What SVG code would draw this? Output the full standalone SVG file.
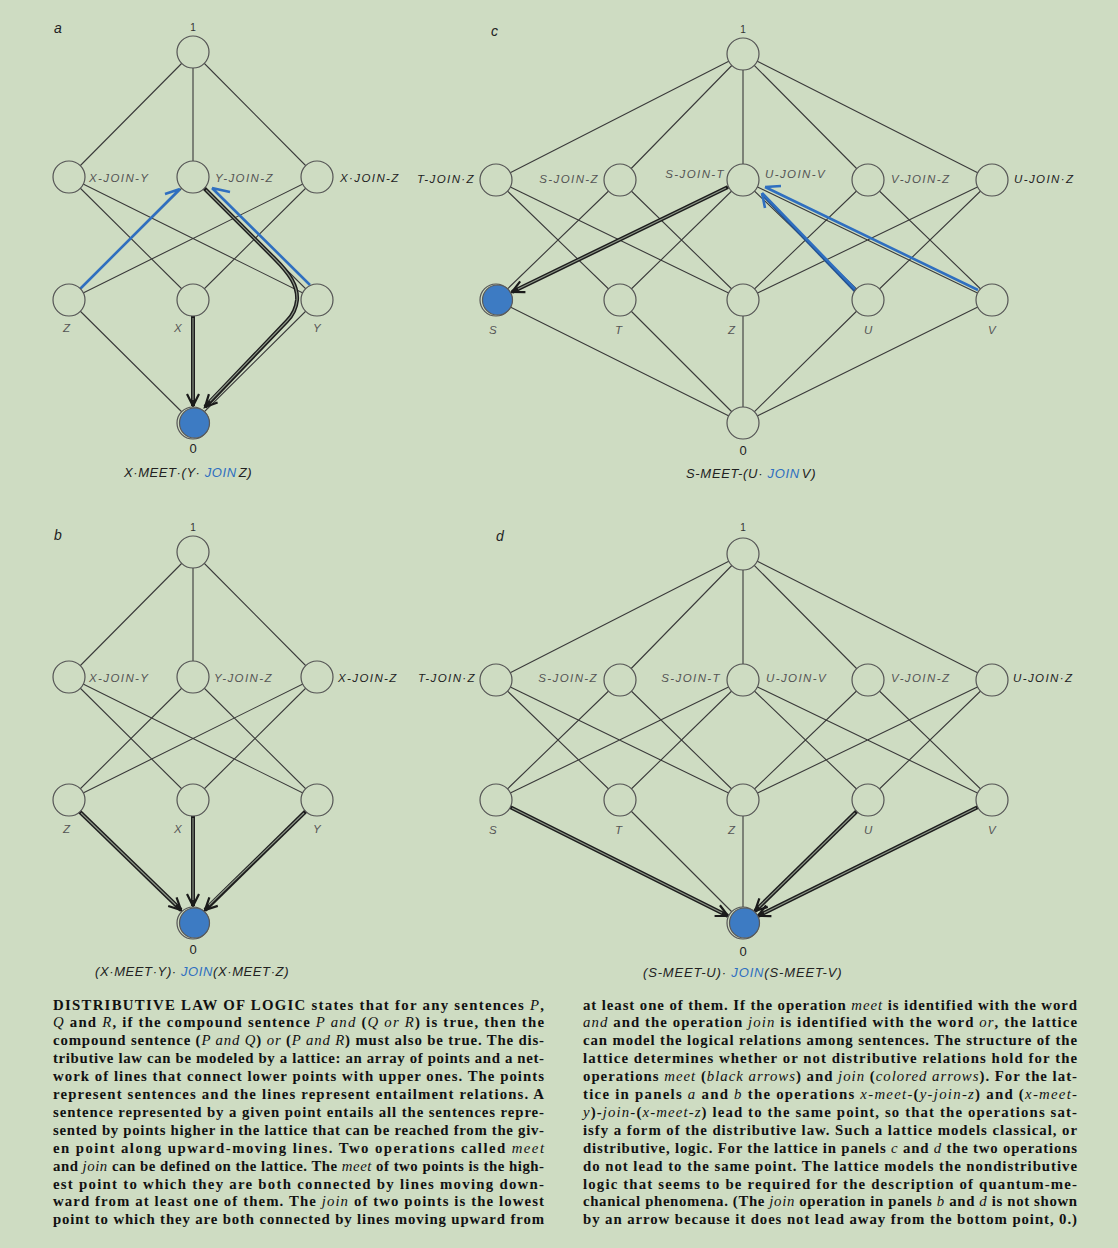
<svg xmlns="http://www.w3.org/2000/svg" width="1118" height="1248" viewBox="0 0 1118 1248">
<style>
.bg{fill:#cedcc2}
.e{fill:none;stroke:#3a3a3a;stroke-width:1.1}
.n{fill:#cedcc2;stroke:#555;stroke-width:1.2}
.nb{fill:#3d7bc3;stroke:#5a5a5a;stroke-width:1.2}
.m{fill:none;stroke:#1d1d1d;stroke-width:4}
.mi{fill:none;stroke:#8d9788;stroke-width:1.1}
.bl{fill:none;stroke:#2f6fc0;stroke-width:2.6}
.bd{fill:none;stroke:#23508f;stroke-width:3}
.lab{font-family:"Liberation Sans",Arial,sans-serif;font-style:italic;font-size:11.5px;letter-spacing:1.4px;fill:#555}
.labd{fill:#222}
.num{font-family:"Liberation Sans",Arial,sans-serif;font-size:10px;fill:#333;text-anchor:middle}
.zero{font-family:"Liberation Sans",Arial,sans-serif;font-size:13px;fill:#222;text-anchor:middle}
.pl{font-family:"Liberation Sans",Arial,sans-serif;font-style:italic;font-size:14px;fill:#222}
.ttl{font-family:"Liberation Sans",Arial,sans-serif;font-style:italic;font-size:13px;fill:#222;letter-spacing:0.5px}
.jn{fill:#2f6fc0}
.cap{font-family:"Liberation Serif","Times New Roman",serif;font-weight:bold;font-size:14.8px;fill:#111}
.i{font-style:italic;font-weight:normal}
</style>
<defs>
<marker id="mk" markerUnits="userSpaceOnUse" markerWidth="20" markerHeight="20" refX="14" refY="8" orient="auto" overflow="visible">
<path d="M2,2 L14,8 L2,14" fill="none" stroke="#1a1a1a" stroke-width="2.2"/>
</marker>
</defs>
<rect class="bg" x="0" y="0" width="1118" height="1248"/>

<!-- Panel letters -->
<text class="pl" x="54" y="33">a</text>
<text class="pl" x="491" y="36">c</text>
<text class="pl" x="54" y="540">b</text>
<text class="pl" x="496" y="541">d</text>

<!-- Connectors -->
<g id="connectors">
  <path class="e" d="M193,52L69,177M193,52L193,177M193,52L317,177M69,177L193,300M69,177L317,300M193,177L69,300M193,177L317,300M317,177L69,300M317,177L193,300M69,300L193,423M193,300L193,423M317,300L193,423"/>
  <path class="e" d="M193,552L69,677M193,552L193,677M193,552L317,677M69,677L193,800M69,677L317,800M193,677L69,800M193,677L317,800M317,677L69,800M317,677L193,800M69,800L193,923M193,800L193,923M317,800L193,923"/>
  <path class="e" d="M743,54L496,180M743,54L620,180M743,54L743,180M743,54L868,180M743,54L992,180M496,180L620,300M496,180L743,300M620,180L496,300M620,180L743,300M743,180L496,300M743,180L620,300M743,180L868,300M743,180L992,300M868,180L743,300M868,180L992,300M992,180L743,300M992,180L868,300M496,300L743,423M620,300L743,423M743,300L743,423M868,300L743,423M992,300L743,423"/>
  <path class="e" d="M743,554L496,680M743,554L620,680M743,554L743,680M743,554L868,680M743,554L992,680M496,680L620,800M496,680L743,800M620,680L496,800M620,680L743,800M743,680L496,800M743,680L620,800M743,680L868,800M743,680L992,800M868,680L743,800M868,680L992,800M992,680L743,800M992,680L868,800M496,800L743,923M620,800L743,923M743,800L743,923M868,800L743,923M992,800L743,923"/>

  <!-- panel a meet arrows -->
  <path class="m" d="M193,316L193,406" marker-end="url(#mk)"/>
  <path class="mi" d="M193,318L193,400"/>
  <path class="m" d="M204,188L274,258C290,274 298,286 297,300C296,310 292,316 287,321L205,407" marker-end="url(#mk)"/>
  <path class="mi" d="M206,190L274,258C290,274 298,286 297,300C296,310 292,316 287,321L210,401"/>
  <!-- panel a join arrows -->
  <path class="bl" d="M80,289L180,189M180,189L165,194"/>
  <path class="bl" d="M310,285L212,188M212,188L230,192"/>

  <!-- panel c meet arrow -->
  <path class="m" d="M728,187L512,292" marker-end="url(#mk)"/>
  <path class="mi" d="M726,188L518,289"/>
  <!-- panel c join arrows -->
  <path class="bd" d="M855,291L762,194"/>
  <path class="bl" d="M855,289L762,193M762,193L765,208"/>
  <path class="bl" d="M978,290L765,187M765,187L781,186"/>

  <!-- panel b meet arrows -->
  <path class="m" d="M79,811L181,910" marker-end="url(#mk)"/>
  <path class="mi" d="M81,813L176,905"/>
  <path class="m" d="M193,816L193,906" marker-end="url(#mk)"/>
  <path class="mi" d="M193,818L193,900"/>
  <path class="m" d="M306,811L205,910" marker-end="url(#mk)"/>
  <path class="mi" d="M304,813L209,905"/>

  <!-- panel d meet arrows -->
  <path class="m" d="M510,807L728,916" marker-end="url(#mk)"/>
  <path class="mi" d="M512,808L722,913"/>
  <path class="m" d="M857,811L755,911" marker-end="url(#mk)"/>
  <path class="mi" d="M855,813L759,907"/>
  <path class="m" d="M978,807L758,916" marker-end="url(#mk)"/>
  <path class="mi" d="M976,808L764,913"/>
</g>

<!-- Panel a nodes -->
<g id="a-one"><circle class="n" cx="193" cy="52" r="16"/><text class="num" x="193" y="31">1</text></g>
<g id="a-xjy"><circle class="n" cx="69" cy="177" r="16"/><text class="lab" x="89" y="182">X-JOIN-Y</text></g>
<g id="a-yjz"><circle class="n" cx="193" cy="177" r="16"/><text class="lab" x="215" y="182">Y-JOIN-Z</text></g>
<g id="a-xjz"><circle class="n" cx="317" cy="177" r="16"/><text class="lab labd" x="340" y="182">X·JOIN-Z</text></g>
<g id="a-z"><circle class="n" cx="69" cy="300" r="16"/><text class="lab" x="63" y="332">Z</text></g>
<g id="a-x"><circle class="n" cx="193" cy="300" r="16"/><text class="lab" x="174" y="332">X</text></g>
<g id="a-y"><circle class="n" cx="317" cy="300" r="16"/><text class="lab" x="313" y="332">Y</text></g>
<g id="a-zero"><circle class="n" cx="193" cy="423" r="16"/><circle class="nb" cx="194.5" cy="423" r="15"/><text class="zero" x="193" y="453">0</text></g>
<text class="ttl" x="124" y="477" textLength="128">X·MEET·(Y· <tspan class="jn">JOIN</tspan><tspan dx="2">Z)</tspan></text>

<!-- Panel b nodes -->
<g id="b-one"><circle class="n" cx="193" cy="552" r="16"/><text class="num" x="193" y="531">1</text></g>
<g id="b-xjy"><circle class="n" cx="69" cy="677" r="16"/><text class="lab" x="89" y="682">X-JOIN-Y</text></g>
<g id="b-yjz"><circle class="n" cx="193" cy="677" r="16"/><text class="lab" x="214" y="682">Y-JOIN-Z</text></g>
<g id="b-xjz"><circle class="n" cx="317" cy="677" r="16"/><text class="lab labd" x="338" y="682">X-JOIN-Z</text></g>
<g id="b-z"><circle class="n" cx="69" cy="800" r="16"/><text class="lab" x="63" y="833">Z</text></g>
<g id="b-x"><circle class="n" cx="193" cy="800" r="16"/><text class="lab" x="174" y="833">X</text></g>
<g id="b-y"><circle class="n" cx="317" cy="800" r="16"/><text class="lab" x="313" y="833">Y</text></g>
<g id="b-zero"><circle class="n" cx="193" cy="923" r="16"/><circle class="nb" cx="194.5" cy="923" r="15"/><text class="zero" x="193" y="954">0</text></g>
<text class="ttl" x="95" y="976" textLength="194">(X·MEET·Y)· <tspan class="jn">JOIN</tspan>(X·MEET·Z)</text>

<!-- Panel c nodes -->
<g id="c-one"><circle class="n" cx="743" cy="54" r="16"/><text class="num" x="743" y="33">1</text></g>
<g id="c-tjz"><circle class="n" cx="496" cy="180" r="16"/><text class="lab labd" x="475" y="183" text-anchor="end">T-JOIN·Z</text></g>
<g id="c-sjz"><circle class="n" cx="620" cy="180" r="16"/><text class="lab" x="599" y="183" text-anchor="end">S-JOIN-Z</text></g>
<g id="c-sjt"><circle class="n" cx="743" cy="180" r="16"/><text class="lab" x="725" y="178" text-anchor="end">S-JOIN-T</text><text class="lab" x="765" y="178">U-JOIN-V</text></g>
<g id="c-vjz"><circle class="n" cx="868" cy="180" r="16"/><text class="lab" x="891" y="183">V-JOIN-Z</text></g>
<g id="c-ujz"><circle class="n" cx="992" cy="180" r="16"/><text class="lab labd" x="1014" y="183">U-JOIN·Z</text></g>
<g id="c-s"><circle class="n" cx="496" cy="300" r="16"/><circle class="nb" cx="497.5" cy="300" r="15"/><text class="lab" x="489" y="334">S</text></g>
<g id="c-t"><circle class="n" cx="620" cy="300" r="16"/><text class="lab" x="615" y="334">T</text></g>
<g id="c-z"><circle class="n" cx="743" cy="300" r="16"/><text class="lab" x="728" y="334">Z</text></g>
<g id="c-u"><circle class="n" cx="868" cy="300" r="16"/><text class="lab" x="864" y="334">U</text></g>
<g id="c-v"><circle class="n" cx="992" cy="300" r="16"/><text class="lab" x="988" y="334">V</text></g>
<g id="c-zero"><circle class="n" cx="743" cy="423" r="16"/><text class="zero" x="743" y="455">0</text></g>
<text class="ttl" x="686" y="478" textLength="130">S-MEET-(U· <tspan class="jn">JOIN</tspan><tspan dx="2">V)</tspan></text>

<!-- Panel d nodes -->
<g id="d-one"><circle class="n" cx="743" cy="554" r="16"/><text class="num" x="743" y="531">1</text></g>
<g id="d-tjz"><circle class="n" cx="496" cy="680" r="16"/><text class="lab labd" x="476" y="682" text-anchor="end">T-JOIN·Z</text></g>
<g id="d-sjz"><circle class="n" cx="620" cy="680" r="16"/><text class="lab" x="598" y="682" text-anchor="end">S-JOIN-Z</text></g>
<g id="d-sjt"><circle class="n" cx="743" cy="680" r="16"/><text class="lab" x="721" y="682" text-anchor="end">S-JOIN-T</text><text class="lab" x="766" y="682">U-JOIN-V</text></g>
<g id="d-vjz"><circle class="n" cx="868" cy="680" r="16"/><text class="lab" x="891" y="682">V-JOIN-Z</text></g>
<g id="d-ujz"><circle class="n" cx="992" cy="680" r="16"/><text class="lab labd" x="1013" y="682">U-JOIN·Z</text></g>
<g id="d-s"><circle class="n" cx="496" cy="800" r="16"/><text class="lab" x="489" y="834">S</text></g>
<g id="d-t"><circle class="n" cx="620" cy="800" r="16"/><text class="lab" x="615" y="834">T</text></g>
<g id="d-z"><circle class="n" cx="743" cy="800" r="16"/><text class="lab" x="728" y="834">Z</text></g>
<g id="d-u"><circle class="n" cx="868" cy="800" r="16"/><text class="lab" x="864" y="834">U</text></g>
<g id="d-v"><circle class="n" cx="992" cy="800" r="16"/><text class="lab" x="988" y="834">V</text></g>
<g id="d-zero"><circle class="n" cx="743" cy="923" r="16"/><circle class="nb" cx="744.5" cy="923" r="15"/><text class="zero" x="743" y="956">0</text></g>
<text class="ttl" x="643" y="977" textLength="199">(S-MEET-U)· <tspan class="jn">JOIN</tspan>(S-MEET-V)</text>

<!-- Caption -->
<g id="caption-left" class="cap">
<text x="53" y="1009.5" textLength="491">DISTRIBUTIVE LAW OF LOGIC states that for any sentences <tspan class="i">P</tspan>,</text>
<text x="53" y="1027.4" textLength="491"><tspan class="i">Q</tspan> and <tspan class="i">R</tspan>, if the compound sentence <tspan class="i">P and</tspan> (<tspan class="i">Q or R</tspan>) is true, then the</text>
<text x="53" y="1045.3" textLength="491">compound sentence (<tspan class="i">P and Q</tspan>) <tspan class="i">or</tspan> (<tspan class="i">P and R</tspan>) must also be true. The dis-</text>
<text x="53" y="1063.2" textLength="491">tributive law can be modeled by a lattice: an array of points and a net-</text>
<text x="53" y="1081.1" textLength="491">work of lines that connect lower points with upper ones. The points</text>
<text x="53" y="1099.0" textLength="491">represent sentences and the lines represent entailment relations. A</text>
<text x="53" y="1116.9" textLength="491">sentence represented by a given point entails all the sentences repre-</text>
<text x="53" y="1134.8" textLength="491">sented by points higher in the lattice that can be reached from the giv-</text>
<text x="53" y="1152.7" textLength="491">en point along upward-moving lines. Two operations called <tspan class="i">meet</tspan></text>
<text x="53" y="1170.6" textLength="491">and <tspan class="i">join</tspan> can be defined on the lattice. The <tspan class="i">meet</tspan> of two points is the high-</text>
<text x="53" y="1188.5" textLength="491">est point to which they are both connected by lines moving down-</text>
<text x="53" y="1206.4" textLength="491">ward from at least one of them. The <tspan class="i">join</tspan> of two points is the lowest</text>
<text x="53" y="1224.3" textLength="491">point to which they are both connected by lines moving upward from</text>
</g>
<g id="caption-right" class="cap">
<text x="583" y="1009.5" textLength="494">at least one of them. If the operation <tspan class="i">meet</tspan> is identified with the word</text>
<text x="583" y="1027.4" textLength="494"><tspan class="i">and</tspan> and the operation <tspan class="i">join</tspan> is identified with the word <tspan class="i">or</tspan>, the lattice</text>
<text x="583" y="1045.3" textLength="494">can model the logical relations among sentences. The structure of the</text>
<text x="583" y="1063.2" textLength="494">lattice determines whether or not distributive relations hold for the</text>
<text x="583" y="1081.1" textLength="494">operations <tspan class="i">meet</tspan> (<tspan class="i">black arrows</tspan>) and <tspan class="i">join</tspan> (<tspan class="i">colored arrows</tspan>). For the lat-</text>
<text x="583" y="1099.0" textLength="494">tice in panels <tspan class="i">a</tspan> and <tspan class="i">b</tspan> the operations <tspan class="i">x-meet-</tspan>(<tspan class="i">y-join-z</tspan>) and (<tspan class="i">x-meet-</tspan></text>
<text x="583" y="1116.9" textLength="494"><tspan class="i">y</tspan>)-<tspan class="i">join-</tspan>(<tspan class="i">x-meet-z</tspan>) lead to the same point, so that the operations sat-</text>
<text x="583" y="1134.8" textLength="494">isfy a form of the distributive law. Such a lattice models classical, or</text>
<text x="583" y="1152.7" textLength="494">distributive, logic. For the lattice in panels <tspan class="i">c</tspan> and <tspan class="i">d</tspan> the two operations</text>
<text x="583" y="1170.6" textLength="494">do not lead to the same point. The lattice models the nondistributive</text>
<text x="583" y="1188.5" textLength="494">logic that seems to be required for the description of quantum-me-</text>
<text x="583" y="1206.4" textLength="494">chanical phenomena. (The <tspan class="i">join</tspan> operation in panels <tspan class="i">b</tspan> and <tspan class="i">d</tspan> is not shown</text>
<text x="583" y="1224.3" textLength="494">by an arrow because it does not lead away from the bottom point, 0.)</text>
</g>
</svg>
